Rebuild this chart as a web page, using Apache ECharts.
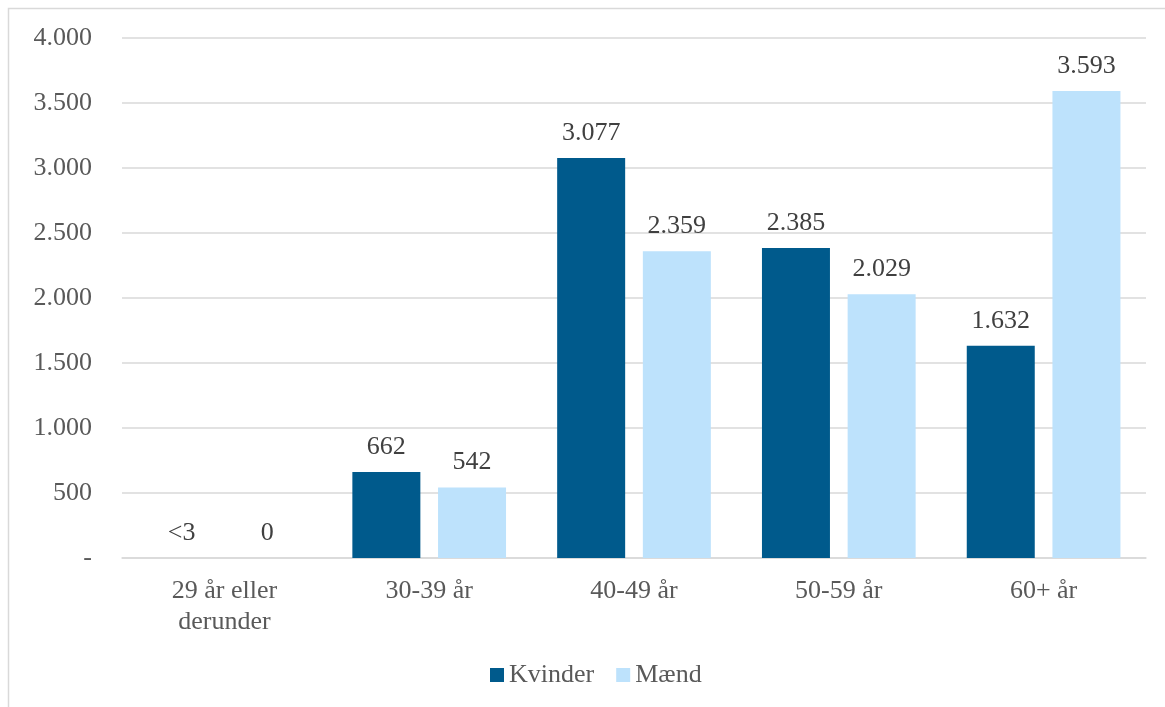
<!DOCTYPE html>
<html>
<head>
<meta charset="utf-8">
<script src="https://cdn.jsdelivr.net/npm/echarts@6/dist/echarts.min.js"></script>
<style>html,body{margin:0;padding:0;background:#fff}#c{width:1165px;height:707px}</style>
</head>
<body>
<div id="c"></div>
<script>
const categories = ['29 år eller\nderunder', '30-39 år', '40-49 år', '50-59 år', '60+ år'];
const kvinder = [0, 662, 3077, 2385, 1632];
const kvinderLabels = ['<3', '662', '3.077', '2.385', '1.632'];
const maend = [0, 542, 2359, 2029, 3593];
const maendLabels = ['0', '542', '2.359', '2.029', '3.593'];
const seriesNames = ['Kvinder', 'Mænd'];

const FONT = '"Liberation Serif", "Times New Roman", serif';
function fmt(v){ if(v===0) return '-'; return String(v).replace(/\B(?=(\d{3})+(?!\d))/g,'.'); }

const chart = echarts.init(document.getElementById('c'));
chart.setOption({
  animation: false,
  textStyle: {fontFamily: FONT},
  graphic: [{type:'rect', shape:{x:8.5, y:8.5, width:1300, height:900}, style:{fill:'none', stroke:'#D9D9D9', lineWidth:1.5}, silent:true}],
  grid: {left:122, right:19, top:38, bottom:149},
  legend: {
    bottom: 14, left: 485, itemWidth: 14, itemHeight: 14, itemGap: 22, icon: 'rect',
    textStyle: {fontFamily: FONT, fontSize: 26, color: '#595959'},
    data: seriesNames
  },
  xAxis: {
    type: 'category', data: categories,
    axisLine: {lineStyle:{color:'#D9D9D9', width:1.5}},
    axisTick: {show:false},
    axisLabel: {fontFamily: FONT, fontSize: 26, color:'#595959', margin: 18, lineHeight: 31}
  },
  yAxis: {
    type: 'value', min: 0, max: 4000, interval: 500,
    axisLine: {show:false}, axisTick:{show:false},
    splitLine: {lineStyle:{color:'#D9D9D9', width:1.5}},
    axisLabel: {fontFamily: FONT, fontSize: 26, color:'#595959', margin: 30, formatter: fmt}
  },
  series: [
    {name: seriesNames[0], type:'bar', data: kvinder, barWidth: 68, barGap: '26%',
     itemStyle:{color:'#005A8C'},
     label:{show:true, position:'top', distance: 12, fontFamily: FONT, fontSize: 26, color:'#404040',
       formatter: p => kvinderLabels[p.dataIndex]}},
    {name: seriesNames[1], type:'bar', data: maend, barWidth: 68,
     itemStyle:{color:'#BDE2FC'},
     label:{show:true, position:'top', distance: 12, fontFamily: FONT, fontSize: 26, color:'#404040',
       formatter: p => maendLabels[p.dataIndex]}}
  ]
});
</script>
</body>
</html>
